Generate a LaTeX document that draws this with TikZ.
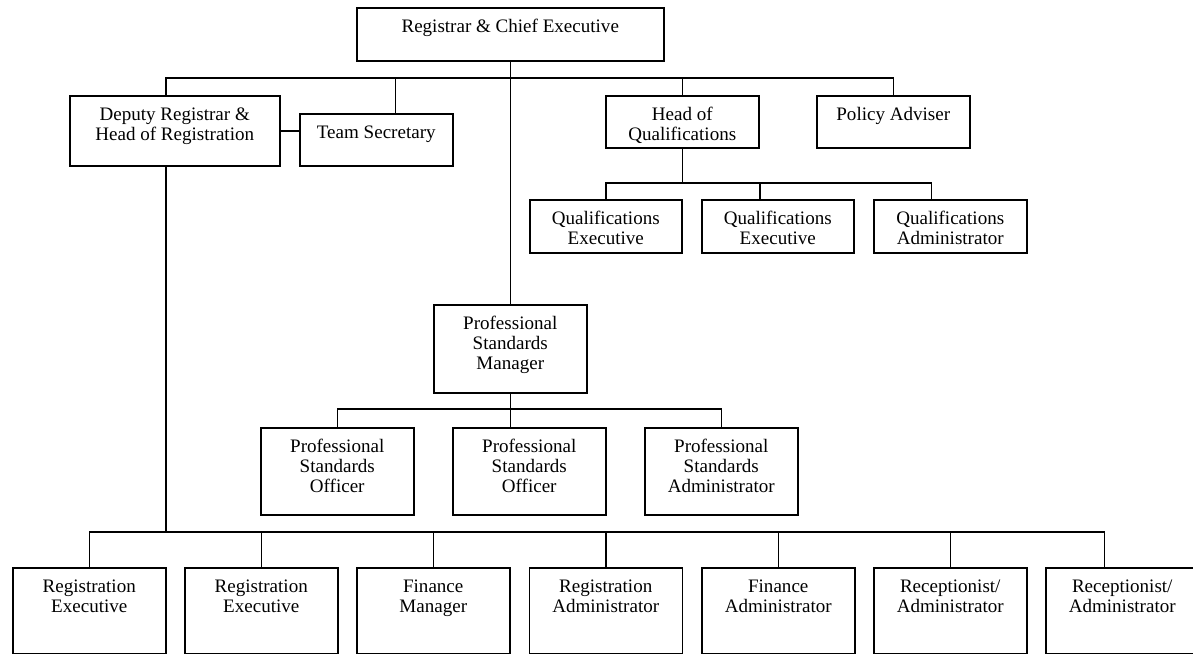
\documentclass[tikz,border=0pt]{standalone}
\usepackage{fontspec}
\setmainfont{Liberation Serif}
\usetikzlibrary{calc,positioning}
\newdimen\px \px=0.63pt
% box text: width, height (in px), lines
\newcommand{\posttext}[3]{\parbox[c][#2\px][t]{#1\px}{\fontsize{12}{12.6}\selectfont\centering\rule{0pt}{25\px}#3}}
\tikzset{
    post/.style={rectangle, draw=black, line width=0.95pt, inner sep=0pt, anchor=north west},
    line/.style={line width=0.95pt},
}
\begin{document}
\begin{tikzpicture}
        [x=0.63pt, y=-0.63pt]
        \useasboundingbox (0,0) rectangle (1193,654);

        % top
        \node[post] (rce) at (356,7) {\posttext{307}{53}{Registrar \& Chief Executive}};

        % second row
        \node[post] (deputy) at (69,95) {\posttext{210}{70}{Deputy Registrar \&\\Head of Registration}};
        \node[post] (team) at (299,113) {\posttext{153}{52}{Team Secretary}};
        \node[post] (hoq) at (605,95) {\posttext{153}{52}{Head of\\Qualifications}};
        \node[post] (policy) at (816,95) {\posttext{153}{52}{Policy Adviser}};

        % qualifications
        \node[post] (qe1) at (529,199) {\posttext{152}{53}{Qualifications\\Executive}};
        \node[post] (qe2) at (701,199) {\posttext{152}{53}{Qualifications\\Executive}};
        \node[post] (qa) at (873,199) {\posttext{153}{53}{Qualifications\\Administrator}};

        % professional standards
        \node[post] (psm) at (433,304) {\posttext{153}{88}{Professional\\Standards\\Manager}};
        \node[post] (pso1) at (260,427) {\posttext{153}{87}{Professional\\Standards\\Officer}};
        \node[post] (pso2) at (452,427) {\posttext{153}{87}{Professional\\Standards\\Officer}};
        \node[post] (psa) at (644,427) {\posttext{153}{87}{Professional\\Standards\\Administrator}};

        % registration
        \node[post] (re1) at (12,567) {\posttext{153}{86}{Registration\\Executive}};
        \node[post] (re2) at (184,567) {\posttext{153}{86}{Registration\\Executive}};
        \node[post] (fm) at (356,567) {\posttext{153}{86}{Finance\\Manager}};
        \node[post] (regadm) at (528.5,567) {\posttext{153}{86}{Registration\\Administrator}};
        \node[post] (fa) at (701,567) {\posttext{153}{86}{Finance\\Administrator}};
        \node[post] (rec1) at (873,567) {\posttext{153}{86}{Receptionist/\\Administrator}};
        \node[post] (rec2) at (1045,567) {\posttext{153}{86}{Receptionist/\\Administrator}};

        \coordinate (bus) at (0,78);
        \coordinate (qbus) at (0,183);
        \coordinate (psbus) at (0,409);
        \coordinate (bbus) at (0,532);
        \coordinate (dtop) at ($(deputy.north)+(-9,0)$);
        \coordinate (dbot) at ($(deputy.south)+(-9,0)$);
        \coordinate (tsdrop) at ($(team.north)+(19,0)$);
        \coordinate (qd2) at ($(qe2.north)+(-18,0)$);
        \coordinate (qd3) at ($(qa.north)+(-19,0)$);
        \coordinate (rd7) at ($(rec2.north)+(-18,0)$);

        \draw[line] (rce.south) -- (psm.north);
        \draw[line] (dtop) |- (policy.north |- bus) -- (policy.north);
        \draw[line] (tsdrop) -- (tsdrop |- bus);
        \draw[line] (hoq.north) -- (hoq.north |- bus);
        \draw[line] (deputy.east) -- (deputy.east -| team.west);

        \draw[line] (hoq.south) -- (hoq.south |- qbus);
        \draw[line] (qe1.north) |- (qd3 |- qbus) -- (qd3);
        \draw[line] (qd2) -- (qd2 |- qbus);

        \draw[line] (psm.south) -- (psm.south |- pso2.north);
        \draw[line] (pso1.north) |- (psa.north |- psbus) -- (psa.north);

        \draw[line] (dbot) -- (dbot |- bbus);
        \draw[line] (re1.north) |- (rd7 |- bbus) -- (rd7);
        \foreach \n in {re2,fm,regadm,fa,rec1}
            \draw[line] (\n.north) -- (\n.north |- bbus);

    \end{tikzpicture}
\end{document}
